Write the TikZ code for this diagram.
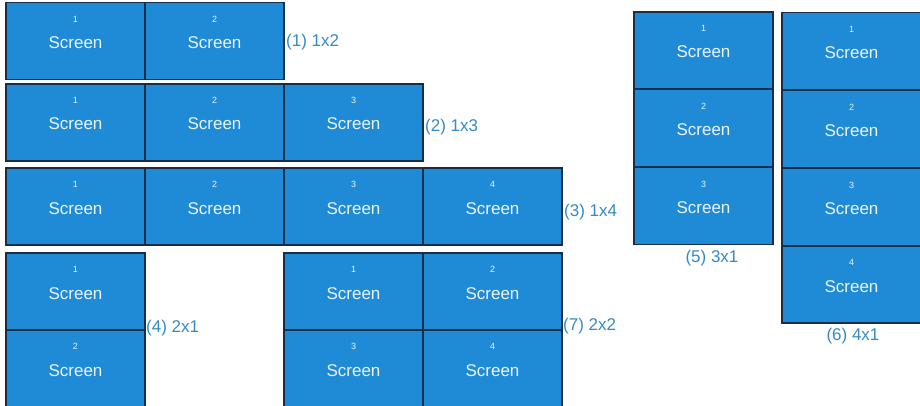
\documentclass[tikz,border=0pt]{standalone}
\usepackage{fontspec}
\setmainfont{Liberation Sans}
\definecolor{boxblue}{RGB}{31,139,215}
\definecolor{boxedge}{RGB}{24,46,70}
\definecolor{lblblue}{RGB}{52,138,198}
\definecolor{txtwhite}{RGB}{236,244,251}
\tikzset{
  scr/.style={rectangle, draw=boxedge, line width=1.2pt, fill=boxblue,
    minimum width=139pt, minimum height=77pt, inner sep=0pt,
    text height=15pt, text depth=0pt,
    text=txtwhite, font=\fontsize{17}{20}\selectfont},
  numlbl/.style={text=txtwhite, font=\fontsize{9}{10}\selectfont, inner sep=0pt, yshift=22pt},
  grplbl/.style={text=lblblue, font=\fontsize{17}{20}\selectfont, inner sep=0pt},
}
\newcommand{\myscr}[4]{%
  \node[scr, label={[numlbl]center:#4}] (#1) at (#2,#3) {Screen};}
\begin{document}
\begin{tikzpicture}[x=1pt,y=-1pt]
\useasboundingbox (0,0) rectangle (920,406);
% group 1
\myscr{ga1}{75.5}{41}{1}
\myscr{ga2}{214.5}{41}{2}
\node[grplbl, anchor=west] (la) at (286,42) {(1) 1x2};
% group 2
\myscr{gb1}{75.5}{122.5}{1}
\myscr{gb2}{214.5}{122.5}{2}
\myscr{gb3}{353.5}{122.5}{3}
\node[grplbl, anchor=west] (lb) at (425,127) {(2) 1x3};
% group 3
\myscr{gc1}{75.5}{206.5}{1}
\myscr{gc2}{214.5}{206.5}{2}
\myscr{gc3}{353.5}{206.5}{3}
\myscr{gc4}{492.5}{206.5}{4}
\node[grplbl, anchor=west] (lc) at (564,212) {(3) 1x4};
% group 4
\myscr{gd1}{75.5}{291.5}{1}
\myscr{gd2}{75.5}{368.5}{2}
\node[grplbl, anchor=west] (ld) at (146,328) {(4) 2x1};
% group 7
\myscr{gg1}{353.5}{291.5}{1}
\myscr{gg2}{492.5}{291.5}{2}
\myscr{gg3}{353.5}{368.5}{3}
\myscr{gg4}{492.5}{368.5}{4}
\node[grplbl, anchor=west] (lg) at (563,326) {(7) 2x2};
% group 5
\myscr{ge1}{703.5}{50.5}{1}
\myscr{ge2}{703.5}{128}{2}
\myscr{ge3}{703.5}{206}{3}
\node[grplbl] (le) at (712,258) {(5) 3x1};
% group 6
\myscr{gf1}{851.5}{51}{1}
\myscr{gf2}{851.5}{129}{2}
\myscr{gf3}{851.5}{207}{3}
\myscr{gf4}{851.5}{284.5}{4}
\node[grplbl] (lf) at (853,336) {(6) 4x1};
\end{tikzpicture}
\end{document}
